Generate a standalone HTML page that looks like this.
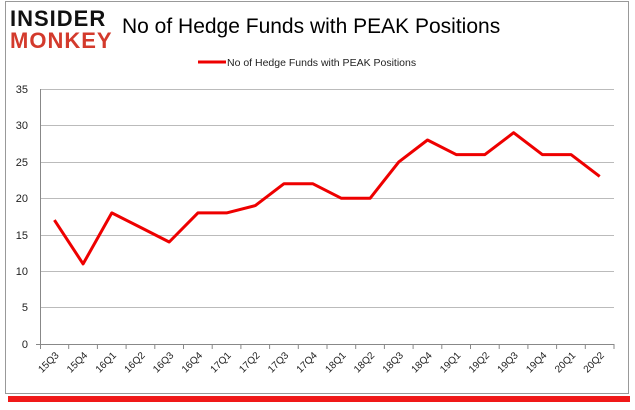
<!DOCTYPE html><html><head><style>body{margin:0;background:#fff;width:635px;height:405px;overflow:hidden}</style></head><body>
<svg width="635" height="405" xmlns="http://www.w3.org/2000/svg" font-family="Liberation Sans, sans-serif">
<rect x="8" y="396" width="622" height="6" fill="#e00" opacity="0.9"/>
<rect x="5.5" y="1.5" width="623" height="392" fill="#fff" stroke="#999" stroke-width="1"/>
<text x="10" y="26" font-size="22" font-weight="bold" fill="#111" letter-spacing="1">INSIDER</text>
<text x="10" y="48" font-size="22" font-weight="bold" fill="#d33a2c" letter-spacing="1">MONKEY</text>
<text x="122" y="33" font-size="21" fill="#000">No of Hedge Funds with PEAK Positions</text>
<line x1="198" y1="62" x2="226" y2="62" stroke="#e00" stroke-width="3"/>
<text x="227" y="66" font-size="10.5" fill="#222">No of Hedge Funds with PEAK Positions</text>
<g stroke="#bbb" stroke-width="1">
<line x1="40" y1="89.5" x2="614" y2="89.5"/><line x1="40" y1="125.5" x2="614" y2="125.5"/><line x1="40" y1="162.5" x2="614" y2="162.5"/><line x1="40" y1="198.5" x2="614" y2="198.5"/><line x1="40" y1="235.5" x2="614" y2="235.5"/><line x1="40" y1="271.5" x2="614" y2="271.5"/><line x1="40" y1="307.5" x2="614" y2="307.5"/>
</g>
<g stroke="#888"><line x1="40.5" y1="89" x2="40.5" y2="344"/><line x1="36" y1="344.5" x2="614" y2="344.5"/>
<line x1="40.5" y1="344" x2="40.5" y2="349"/><line x1="68.7" y1="344" x2="68.7" y2="349"/><line x1="97.4" y1="344" x2="97.4" y2="349"/><line x1="126.1" y1="344" x2="126.1" y2="349"/><line x1="154.8" y1="344" x2="154.8" y2="349"/><line x1="183.5" y1="344" x2="183.5" y2="349"/><line x1="212.2" y1="344" x2="212.2" y2="349"/><line x1="240.9" y1="344" x2="240.9" y2="349"/><line x1="269.6" y1="344" x2="269.6" y2="349"/><line x1="298.3" y1="344" x2="298.3" y2="349"/><line x1="327" y1="344" x2="327" y2="349"/><line x1="355.7" y1="344" x2="355.7" y2="349"/><line x1="384.4" y1="344" x2="384.4" y2="349"/><line x1="413.1" y1="344" x2="413.1" y2="349"/><line x1="441.8" y1="344" x2="441.8" y2="349"/><line x1="470.5" y1="344" x2="470.5" y2="349"/><line x1="499.2" y1="344" x2="499.2" y2="349"/><line x1="527.9" y1="344" x2="527.9" y2="349"/><line x1="556.6" y1="344" x2="556.6" y2="349"/><line x1="585.3" y1="344" x2="585.3" y2="349"/><line x1="614" y1="344" x2="614" y2="349"/>
</g>
<g font-size="11" fill="#222" text-anchor="end">
<text x="28" y="93">35</text><text x="28" y="129">30</text><text x="28" y="166">25</text><text x="28" y="202">20</text><text x="28" y="239">15</text><text x="28" y="275">10</text><text x="28" y="311">5</text><text x="28" y="348">0</text>
</g>
<g font-size="10" fill="#222" text-anchor="end">
<text transform="translate(59.4,356) rotate(-45)">15Q3</text>
<text transform="translate(88.1,356) rotate(-45)">15Q4</text>
<text transform="translate(116.8,356) rotate(-45)">16Q1</text>
<text transform="translate(145.5,356) rotate(-45)">16Q2</text>
<text transform="translate(174.2,356) rotate(-45)">16Q3</text>
<text transform="translate(202.9,356) rotate(-45)">16Q4</text>
<text transform="translate(231.6,356) rotate(-45)">17Q1</text>
<text transform="translate(260.3,356) rotate(-45)">17Q2</text>
<text transform="translate(289,356) rotate(-45)">17Q3</text>
<text transform="translate(317.7,356) rotate(-45)">17Q4</text>
<text transform="translate(346.4,356) rotate(-45)">18Q1</text>
<text transform="translate(375.1,356) rotate(-45)">18Q2</text>
<text transform="translate(403.8,356) rotate(-45)">18Q3</text>
<text transform="translate(432.5,356) rotate(-45)">18Q4</text>
<text transform="translate(461.2,356) rotate(-45)">19Q1</text>
<text transform="translate(489.9,356) rotate(-45)">19Q2</text>
<text transform="translate(518.6,356) rotate(-45)">19Q3</text>
<text transform="translate(547.3,356) rotate(-45)">19Q4</text>
<text transform="translate(576,356) rotate(-45)">20Q1</text>
<text transform="translate(604.7,356) rotate(-45)">20Q2</text>
</g>
<polyline fill="none" stroke="#e00" stroke-width="3" stroke-linejoin="round" points="54.4,220.1 83.1,263.9 111.8,212.9 140.5,227.4 169.2,242 197.9,212.9 226.6,212.9 255.3,205.6 284,183.7 312.7,183.7 341.4,198.3 370.1,198.3 398.8,161.9 427.5,140 456.2,154.6 484.9,154.6 513.6,132.7 542.3,154.6 571,154.6 599.7,176.4"/>
</svg></body></html>
